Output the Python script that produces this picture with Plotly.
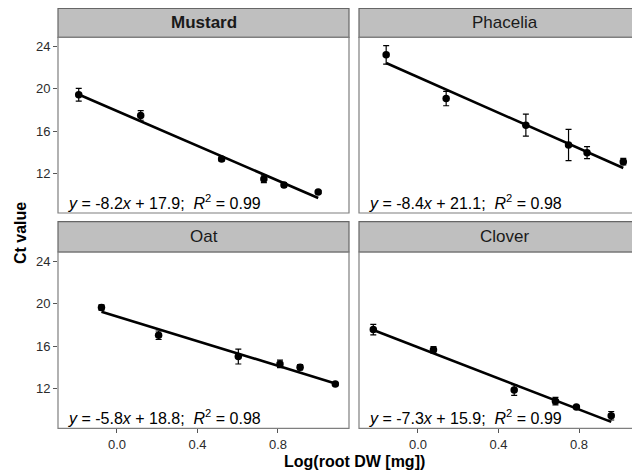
import plotly.graph_objects as go

# Page body adds an 8px offset; the figure is sized so it fills the 640x473 window.
OFF = 8
W, H = 640 - OFF, 473 - OFF

# ---- data ----
panels = ["Mustard", "Phacelia", "Oat", "Clover"]
panel_bold = [True, False, False, False]

mustard_x = [-0.19, 0.118, 0.52, 0.73, 0.83, 1.0]
mustard_y = [19.43, 17.48, 13.38, 11.5, 10.93, 10.26]
mustard_err = [0.6, 0.45, 0.2, 0.35, 0.2, 0.15]

phacelia_x = [-0.158, 0.14, 0.536, 0.748, 0.84, 1.02]
phacelia_y = [23.2, 19.08, 16.57, 14.7, 13.98, 13.13]
phacelia_err = [0.87, 0.68, 1.04, 1.47, 0.57, 0.3]

oat_x = [-0.077, 0.207, 0.603, 0.81, 0.91, 1.085]
oat_y = [19.63, 17.03, 15.03, 14.34, 14.03, 12.44]
oat_err = [0.25, 0.4, 0.7, 0.35, 0.25, 0.15]

clover_x = [-0.222, 0.077, 0.478, 0.683, 0.787, 0.96]
clover_y = [17.56, 15.66, 11.88, 10.84, 10.28, 9.47]
clover_err = [0.5, 0.3, 0.5, 0.35, 0.15, 0.4]

slopes = [-8.2, -8.4, -5.8, -7.3]
intercepts = [17.9, 21.1, 18.8, 15.9]
r2 = [0.99, 0.98, 0.98, 0.99]

y_ticks = [12, 16, 20, 24]
x_ticks = [0.0, 0.4, 0.8]
x_tick_labels = ["0.0", "0.4", "0.8"]

xs = [mustard_x, phacelia_x, oat_x, clover_x]
ys = [mustard_y, phacelia_y, oat_y, clover_y]
errs = [mustard_err, phacelia_err, oat_err, clover_err]

# ---- layout geometry (screen pixels) ----
col_px = [(58, 349), (359, 650)]
row_px = [(37.3, 213.0), (252.0, 428.3)]
strip_px = [(8.3, 37.3), (221.7, 252.0)]
x_ranges = [[-0.293, 1.153], [-0.293, 1.103]]
y_range = [8.29, 24.85]

FONT = "Liberation Sans, Arial, sans-serif"

def px2x(p):
    return (p - OFF) / W

def px2y(p):
    return 1 - (p - OFF) / H

fig = go.Figure()
shapes = []
annotations = []

for i, name in enumerate(panels):
    r, c = divmod(i, 2)
    ax = "" if i == 0 else str(i + 1)
    xref = "x" + ax
    yref = "y" + ax
    fig.add_trace(go.Scatter(
        x=xs[i], y=ys[i], mode="markers",
        marker=dict(color="black", size=7.5),
        error_y=dict(type="data", array=errs[i], color="black", thickness=1.2, width=3),
        xaxis=xref, yaxis=yref, showlegend=False, cliponaxis=False))
    x0, x1 = min(xs[i]), max(xs[i])
    fig.add_trace(go.Scatter(
        x=[x0, x1], y=[slopes[i] * x0 + intercepts[i], slopes[i] * x1 + intercepts[i]],
        mode="lines", line=dict(color="black", width=2.6),
        xaxis=xref, yaxis=yref, showlegend=False))

    xd = [px2x(col_px[c][0]), min(1.0, px2x(col_px[c][1]))]
    yd = [px2y(row_px[r][1]), px2y(row_px[r][0])]
    fig.layout["xaxis" + ax] = dict(
        domain=xd, range=list(x_ranges[c]), anchor=yref, showgrid=False, zeroline=False,
        tickvals=x_ticks, ticktext=x_tick_labels,
        showticklabels=(r == 1), ticks="outside" if r == 1 else "",
        ticklen=4, tickcolor="#555", tickwidth=1,
        tickfont=dict(family=FONT, size=13, color="#2b2b2b"), showline=False)
    fig.layout["yaxis" + ax] = dict(
        domain=yd, range=y_range, anchor=xref, showgrid=False, zeroline=False,
        tickvals=y_ticks, showticklabels=(c == 0), ticks="outside" if c == 0 else "",
        ticklen=4, tickcolor="#555", tickwidth=1,
        tickfont=dict(family=FONT, size=13, color="#2b2b2b"), showline=False)

    shapes.append(dict(type="rect", xref="paper", yref="paper",
                       x0=px2x(col_px[c][0]), x1=px2x(col_px[c][1]),
                       y0=px2y(row_px[r][1]), y1=px2y(row_px[r][0]),
                       line=dict(color="#7f7f7f", width=1.2), fillcolor="rgba(0,0,0,0)", layer="above"))
    shapes.append(dict(type="rect", xref="paper", yref="paper",
                       x0=px2x(col_px[c][0]), x1=px2x(col_px[c][1]),
                       y0=px2y(strip_px[r][1]), y1=px2y(strip_px[r][0]),
                       line=dict(color="#666666", width=1.2), fillcolor="#bfbfbf", layer="below"))
    cx = (col_px[c][0] + col_px[c][1]) / 2
    cy = (strip_px[r][0] + strip_px[r][1]) / 2
    label = f"<b>{name}</b>" if panel_bold[i] else name
    annotations.append(dict(text=label, xref="paper", yref="paper",
                            x=px2x(cx), y=px2y(cy), showarrow=False,
                            xanchor="center", yanchor="middle",
                            font=dict(family=FONT, size=17, color="#1a1a1a")))
    sign = "-" if slopes[i] < 0 else ""
    eq = (f"<i>y</i> = {sign}{abs(slopes[i]):.1f}<i>x</i> + {intercepts[i]:.1f};  "
          f"<i>R</i><sup>2</sup> = {r2[i]:.2f}")
    annotations.append(dict(text=eq, xref="paper", yref="paper",
                            x=px2x(col_px[c][0] + 8), y=px2y(row_px[r][1] - 11),
                            showarrow=False, xanchor="left", yanchor="middle",
                            font=dict(family=FONT, size=16, color="black")))

annotations.append(dict(text="<b>Log(root DW [mg])</b>", xref="paper", yref="paper",
                        x=px2x(354), y=px2y(461), showarrow=False,
                        xanchor="center", yanchor="middle",
                        font=dict(family=FONT, size=16, color="black")))
annotations.append(dict(text="<b>Ct value</b>", xref="paper", yref="paper",
                        x=px2x(20), y=px2y(233), showarrow=False, textangle=-90,
                        xanchor="center", yanchor="middle",
                        font=dict(family=FONT, size=16, color="black")))

fig.update_layout(
    width=W, height=H, margin=dict(l=0, r=0, t=0, b=0),
    paper_bgcolor="white", plot_bgcolor="white",
    shapes=shapes, annotations=annotations, showlegend=False)

fig.write_html("out.html")
